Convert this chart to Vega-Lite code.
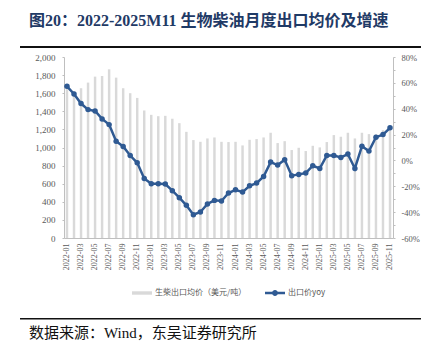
{
  "$schema": "https://vega.github.io/schema/vega-lite/v6.json",
  "padding": {"left": 20, "right": 10, "top": 13, "bottom": 5},
  "background": "white",
  "config": {
    "view": {"stroke": null},
    "font": "Liberation Serif",
    "legend": {"layout": {"bottom": {"anchor": "middle"}}}
  },
  "spacing": 5,
  "resolve": {"legend": {"color": "independent"}},
  "vconcat": [
    {
      "width": 329,
      "height": 2,
      "title": {
        "text": "图20：2022-2025M11  生物柴油月度出口均价及增速",
        "anchor": "start",
        "frame": "group",
        "dx": -35,
        "offset": 17,
        "font": "'Liberation Serif', 'Noto Sans CJK SC'",
        "fontSize": 16,
        "fontWeight": "bold",
        "color": "#1F3A66"
      },
      "data": {"values": [{"a": 0, "b": 1}]},
      "mark": {"type": "rect", "color": "#111111"},
      "encoding": {
        "x": {"field": "a", "type": "quantitative", "scale": {"domain": [0.1097, 0.9302], "nice": false, "zero": false}, "axis": null},
        "x2": {"field": "b"},
        "y": {"value": 0},
        "y2": {"value": 2}
      }
    },
    {
      "spacing": 21,
      "resolve": {"legend": {"color": "independent"}},
      "vconcat": [
        {
          "width": 329,
          "height": 181,
          "data": {
            "values": [
              {"month": "2022-01", "price": 1660, "yoy": 0.573},
              {"month": "2022-02", "price": 1620, "yoy": 0.514},
              {"month": "2022-03", "price": 1655, "yoy": 0.44},
              {"month": "2022-04", "price": 1717, "yoy": 0.393},
              {"month": "2022-05", "price": 1783, "yoy": 0.383},
              {"month": "2022-06", "price": 1790, "yoy": 0.321},
              {"month": "2022-07", "price": 1864, "yoy": 0.277},
              {"month": "2022-08", "price": 1772, "yoy": 0.149},
              {"month": "2022-09", "price": 1655, "yoy": 0.108},
              {"month": "2022-10", "price": 1600, "yoy": 0.038},
              {"month": "2022-11", "price": 1548, "yoy": -0.018},
              {"month": "2022-12", "price": 1409, "yoy": -0.139},
              {"month": "2023-01", "price": 1361, "yoy": -0.18},
              {"month": "2023-02", "price": 1346, "yoy": -0.18},
              {"month": "2023-03", "price": 1350, "yoy": -0.183},
              {"month": "2023-04", "price": 1318, "yoy": -0.234},
              {"month": "2023-05", "price": 1269, "yoy": -0.288},
              {"month": "2023-06", "price": 1173, "yoy": -0.347},
              {"month": "2023-07", "price": 1082, "yoy": -0.42},
              {"month": "2023-08", "price": 1063, "yoy": -0.399},
              {"month": "2023-09", "price": 1100, "yoy": -0.337},
              {"month": "2023-10", "price": 1111, "yoy": -0.309},
              {"month": "2023-11", "price": 1063, "yoy": -0.314},
              {"month": "2023-12", "price": 1060, "yoy": -0.252},
              {"month": "2024-01", "price": 1063, "yoy": -0.227},
              {"month": "2024-02", "price": 1023, "yoy": -0.245},
              {"month": "2024-03", "price": 1085, "yoy": -0.196},
              {"month": "2024-04", "price": 1093, "yoy": -0.175},
              {"month": "2024-05", "price": 1111, "yoy": -0.124},
              {"month": "2024-06", "price": 1163, "yoy": -0.013},
              {"month": "2024-07", "price": 1049, "yoy": -0.036},
              {"month": "2024-08", "price": 1070, "yoy": 0.006},
              {"month": "2024-09", "price": 972, "yoy": -0.118},
              {"month": "2024-10", "price": 997, "yoy": -0.108},
              {"month": "2024-11", "price": 961, "yoy": -0.098},
              {"month": "2024-12", "price": 1019, "yoy": -0.041},
              {"month": "2025-01", "price": 1001, "yoy": -0.062},
              {"month": "2025-02", "price": 1060, "yoy": 0.038},
              {"month": "2025-03", "price": 1137, "yoy": 0.038},
              {"month": "2025-04", "price": 1119, "yoy": 0.023},
              {"month": "2025-05", "price": 1163, "yoy": 0.049},
              {"month": "2025-06", "price": 1100, "yoy": -0.062},
              {"month": "2025-07", "price": 1163, "yoy": 0.11},
              {"month": "2025-08", "price": 1148, "yoy": 0.072},
              {"month": "2025-09", "price": 1145, "yoy": 0.18},
              {"month": "2025-10", "price": 1192, "yoy": 0.2},
              {"month": "2025-11", "price": 1220, "yoy": 0.252}
            ]
          },
          "encoding": {
            "x": {
              "field": "month",
              "type": "ordinal",
              "scale": {"paddingInner": 0.65, "paddingOuter": 0.25},
              "axis": {
                "title": null,
                "labelAngle": -90,
                "labelFont": "Liberation Serif",
                "labelFontSize": 8,
                "labelColor": "#595959",
                "labelPadding": 5,
                "ticks": false,
                "domainColor": "#BFBFBF",
                "labelOverlap": false,
                "labelExpr": "toNumber(substring(datum.value, 5, 7)) % 2 == 1 ? datum.value : ''"
              }
            }
          },
          "layer": [
            {
              "mark": {"type": "bar"},
              "encoding": {
                "y": {
                  "field": "price",
                  "type": "quantitative",
                  "scale": {"domain": [0, 2000]},
                  "axis": {
                    "title": null,
                    "values": [0, 200, 400, 600, 800, 1000, 1200, 1400, 1600, 1800, 2000],
                    "format": ",.0f",
                    "grid": false,
                    "domainColor": "#BFBFBF",
                    "tickColor": "#BFBFBF",
                    "tickSize": 2,
                    "labelPadding": 7,
                    "labelFont": "Liberation Serif",
                    "labelFontSize": 9,
                    "labelColor": "#595959",
                    "minExtent": 44
                  }
                },
                "color": {
                  "datum": "生柴出口均价（美元/吨）",
                  "type": "nominal",
                  "scale": {
                    "domain": ["生柴出口均价（美元/吨）", "出口价yoy"],
                    "range": ["#D9D9D9", "#2F5A93"]
                  },
                  "legend": {
                    "title": null,
                    "orient": "bottom",
                    "direction": "horizontal",
                    "offset": 13,
                    "symbolSize": 400,
                    "labelFont": "Noto Sans CJK SC",
                    "labelFontSize": 8,
                    "labelColor": "#595959",
                    "labelOffset": 3,
                    "columnPadding": 18,
                    "encode": {
                      "symbols": {
                        "update": {
                          "shape": {"signal": "datum.value === '出口价yoy' ? 'M-1,-0.12H1V0.12H-1Z M0.3,0A0.3,0.3 0 1,1 -0.3,0A0.3,0.3 0 1,1 0.3,0Z' : 'M-1,-0.17H1V0.17H-1Z'"},
                          "fill": {"signal": "datum.value === '出口价yoy' ? '#2F5A93' : '#D9D9D9'"},
                          "strokeWidth": {"value": 0},
                          "opacity": {"value": 1}
                        }
                      }
                    }
                  }
                }
              }
            },
            {
              "mark": {"type": "line", "strokeWidth": 2.5, "point": {"filled": true, "size": 30}},
              "encoding": {
                "y": {
                  "field": "yoy",
                  "type": "quantitative",
                  "scale": {"domain": [-0.6, 0.8]},
                  "axis": {
                    "orient": "right",
                    "title": null,
                    "values": [-0.6, -0.5, -0.4, -0.3, -0.2, -0.1, 0, 0.1, 0.2, 0.3, 0.4, 0.5, 0.6, 0.7, 0.8],
                    "labelExpr": "abs(round(datum.value * 10)) % 2 == 0 ? replace(format(datum.value, '.0%'), '−', '-') : ''",
                    "grid": false,
                    "domainColor": "#BFBFBF",
                    "tickColor": "#BFBFBF",
                    "tickSize": 2,
                    "labelPadding": 6,
                    "labelOverlap": false,
                    "labelFont": "Liberation Serif",
                    "labelFontSize": 8.5,
                    "labelColor": "#595959"
                  }
                },
                "color": {"datum": "出口价yoy", "type": "nominal"}
              }
            }
          ],
          "resolve": {"scale": {"y": "independent"}}
        },
        {
          "width": 329,
          "height": 2,
          "title": {
            "text": "数据来源：Wind，东吴证券研究所",
            "orient": "bottom",
            "anchor": "start",
            "frame": "group",
            "dx": -35,
            "offset": 6,
            "font": "'Liberation Serif', 'Noto Sans CJK SC'",
            "fontSize": 15,
            "fontWeight": "normal",
            "color": "#111111"
          },
          "data": {"values": [{"a": 0, "b": 1}]},
          "mark": {"type": "rect", "color": "#111111"},
          "encoding": {
            "x": {"field": "a", "type": "quantitative", "scale": {"domain": [0.1097, 0.9302], "nice": false, "zero": false}, "axis": null},
            "x2": {"field": "b"},
            "y": {"value": 0},
            "y2": {"value": 1.5}
          }
        }
      ]
    }
  ]
}
